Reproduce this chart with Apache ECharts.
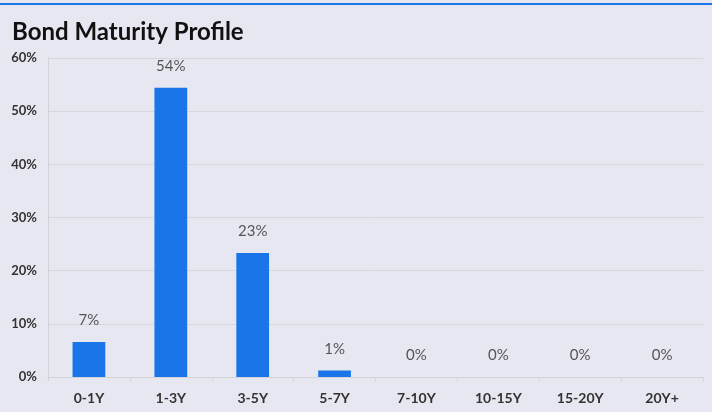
<!DOCTYPE html>
<html>
<head>
<meta charset="utf-8">
<script src="https://cdn.jsdelivr.net/npm/echarts@6/dist/echarts.min.js"></script>
<style>
  html, body { margin: 0; padding: 0; background: #e7e7f1; }
  #chart { width: 712px; height: 412px; }
</style>
</head>
<body>
<div id="chart"></div>
<script>
// maturity buckets and share of portfolio (%)
var buckets = ['0-1Y', '1-3Y', '3-5Y', '5-7Y', '7-10Y', '10-15Y', '15-20Y', '20Y+'];
var shares = [6.6, 54.4, 23.3, 1.2, 0, 0, 0, 0];
var yTicks = [0, 10, 20, 30, 40, 50, 60];

var font = 'Lato, "DejaVu Sans", sans-serif';
var chart = echarts.init(document.getElementById('chart'));

chart.setOption({
    backgroundColor: '#e7e7f1',
    animation: false,
    title: {
        text: 'Bond Maturity Profile',
        left: 7,
        top: 15,
        textStyle: { fontFamily: font, fontSize: 24, fontWeight: 'bold', color: '#111' }
    },
    graphic: [{
        type: 'rect',
        left: 0,
        top: 3,
        shape: { width: 712, height: 2 },
        style: { fill: '#1a76e8' }
    }],
    grid: { left: 48, right: 9, top: 58, bottom: 35 },
    xAxis: {
        type: 'category',
        data: buckets,
        axisLine: { lineStyle: { color: '#d2d2d8' } },
        axisTick: { show: true, length: 4, lineStyle: { color: '#d2d2d8' } },
        axisLabel: { fontFamily: font, fontSize: 14, fontWeight: 'bold', color: '#333', margin: 14 }
    },
    yAxis: {
        type: 'value',
        min: yTicks[0],
        max: yTicks[yTicks.length - 1],
        interval: 10,
        axisLine: { show: true, lineStyle: { color: '#d2d2d8' } },
        splitLine: { lineStyle: { color: '#d6d6dc' } },
        axisLabel: {
            fontFamily: font, fontSize: 13, fontWeight: 'bold', color: '#333', margin: 11,
            formatter: function (v) { return v + '%'; }
        }
    },
    series: [{
        type: 'bar',
        data: shares,
        barWidth: '40%',
        itemStyle: { color: '#1a76e8' },
        label: {
            show: true,
            position: 'top',
            distance: 14,
            fontFamily: font,
            fontSize: 15,
            color: '#555',
            formatter: function (p) { return Math.round(p.value) + '%'; }
        }
    }]
});
</script>
</body>
</html>
